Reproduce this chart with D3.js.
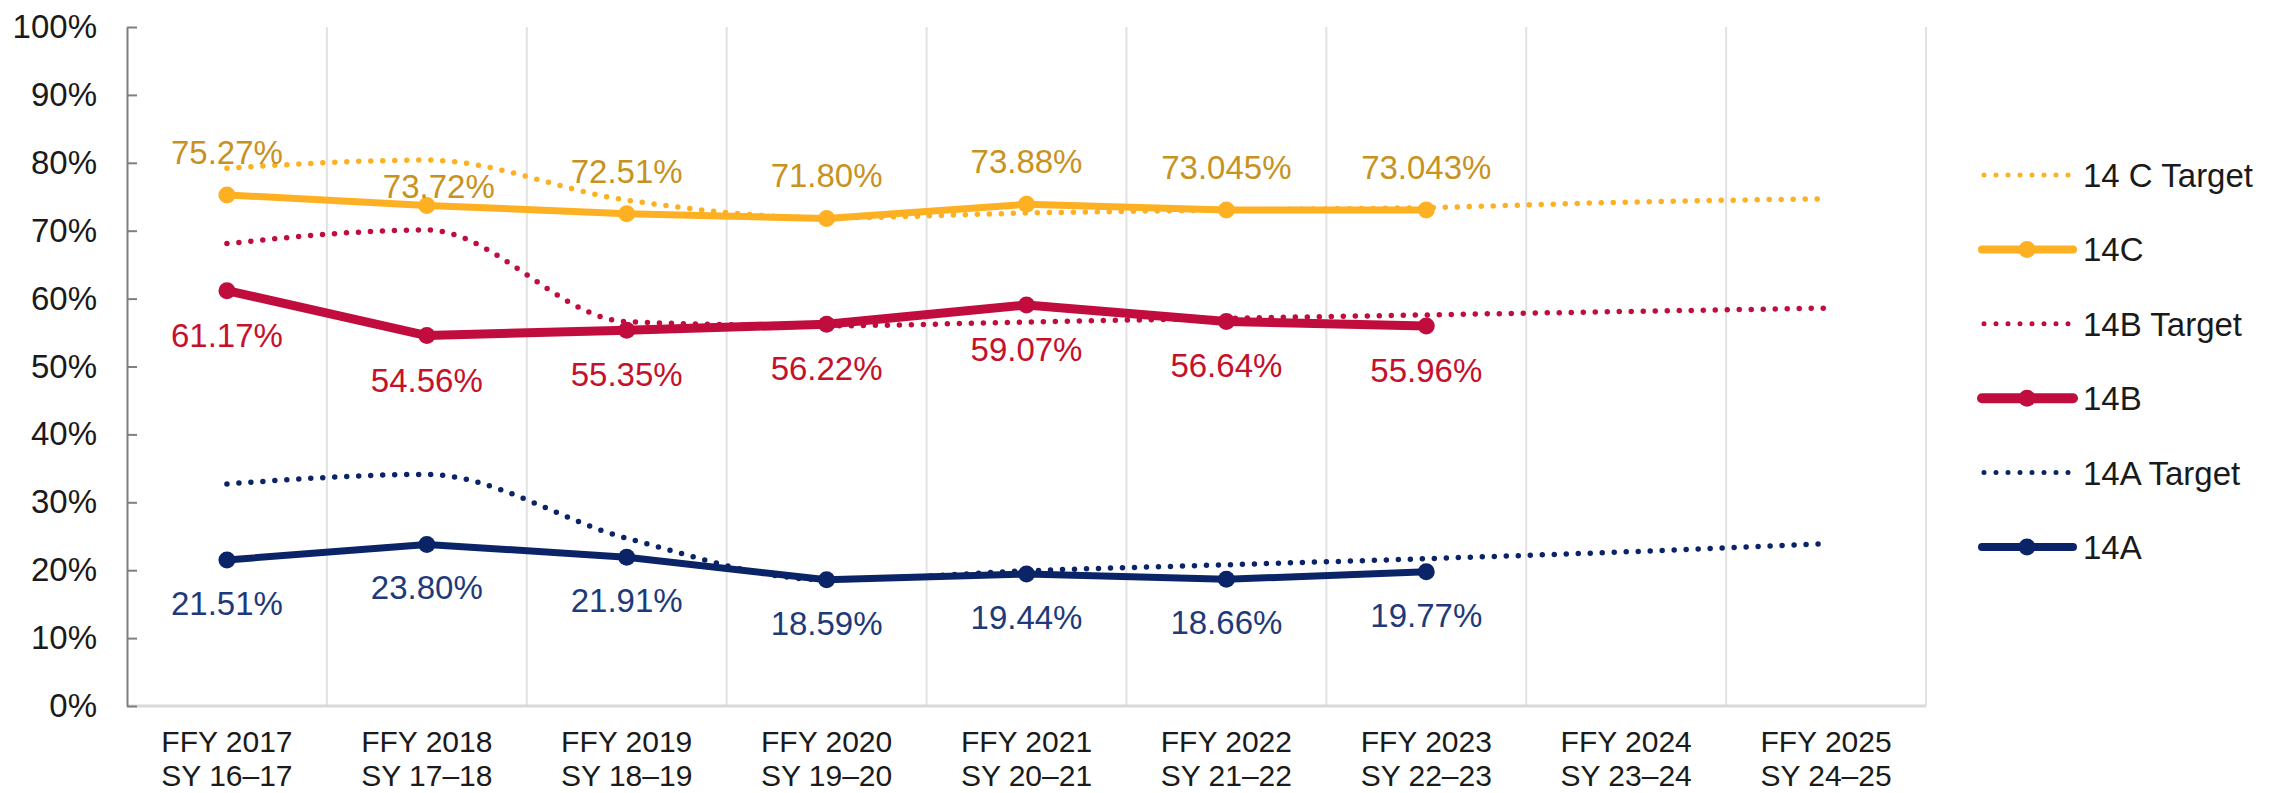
<!DOCTYPE html>
<html>
<head>
<meta charset="utf-8">
<script src="https://cdn.jsdelivr.net/npm/d3@7/dist/d3.min.js"></script>
<style>
  body { margin: 0; background: #fff; }
  text { font-family: "Liberation Sans", Arial, sans-serif; }
</style>
</head>
<body>
<script>
// categories (two line tick labels)
const years = ["FFY 2017", "FFY 2018", "FFY 2019", "FFY 2020", "FFY 2021", "FFY 2022", "FFY 2023", "FFY 2024", "FFY 2025"];
const schoolYears = ["SY 16–17", "SY 17–18", "SY 18–19", "SY 19–20", "SY 20–21", "SY 21–22", "SY 22–23", "SY 23–24", "SY 24–25"];
const yTicks = [0, 10, 20, 30, 40, 50, 60, 70, 80, 90, 100];

// actual values (FFY 2017 - 2023)
const v14C = [75.27, 73.72, 72.51, 71.80, 73.88, 73.045, 73.043];
const v14B = [61.17, 54.56, 55.35, 56.22, 59.07, 56.64, 55.96];
const v14A = [21.51, 23.80, 21.91, 18.59, 19.44, 18.66, 19.77];

// targets (FFY 2017 - 2025)
const t14C = [79.2, 80.4, 74.5, 71.9, 72.6, 73.05, 73.4, 74.2, 74.7];
const t14B = [68.1, 70.1, 56.6, 56.0, 56.55, 57.1, 57.6, 58.1, 58.6];
const t14A = [32.7, 34.1, 24.7, 18.6, 19.9, 20.8, 21.7, 22.7, 23.9];

// size of the picture and the plot area
const W = 2289, H = 793;
const plot = {left: 127, right: 1926, top: 27, bottom: 706};

const svg = d3.select("body").append("svg")
  .attr("width", W).attr("height", H);

const x = d3.scalePoint().domain(years).range([plot.left, plot.right]).padding(0.5);
const y = d3.scaleLinear().domain([0, 100]).range([plot.bottom, plot.top]);
const step = x.step();

// vertical gridlines between categories + right border
svg.append("g").selectAll("line")
  .data(years.slice(1).concat(["end"]))
  .join("line")
  .attr("x1", (d, i) => plot.left + (i + 1) * step)
  .attr("x2", (d, i) => plot.left + (i + 1) * step)
  .attr("y1", y(100)).attr("y2", y(0))
  .attr("stroke", "#e2e2e2").attr("stroke-width", 2);

// bottom line
svg.append("line")
  .attr("x1", plot.left).attr("x2", plot.right)
  .attr("y1", y(0)).attr("y2", y(0))
  .attr("stroke", "#d9d9d9").attr("stroke-width", 3);

// y axis
const yAxis = svg.append("g")
  .attr("transform", `translate(${plot.left},0)`)
  .call(d3.axisLeft(y).tickValues(yTicks).tickFormat(d => d + "%")
    .tickSize(-10).tickSizeOuter(0).tickPadding(30));
yAxis.select(".domain").attr("stroke", "#7f7f7f").attr("stroke-width", 2);
yAxis.selectAll(".tick line").attr("stroke", "#7f7f7f").attr("stroke-width", 2);
yAxis.selectAll(".tick text").attr("font-size", 33).attr("fill", "#1a1a1a")
  .attr("font-family", "'Liberation Sans', Arial, sans-serif");

// x labels
const xl = svg.append("g").selectAll("text")
  .data(years)
  .join("text")
  .attr("x", d => x(d))
  .attr("y", 752)
  .attr("text-anchor", "middle")
  .attr("font-size", 30)
  .attr("fill", "#1a1a1a");
xl.append("tspan").attr("x", d => x(d)).text(d => d);
xl.append("tspan").attr("x", d => x(d)).attr("dy", 34).text((d, i) => schoolYears[i]);

const fmt = v => { let s = v.toFixed(3); if (s.endsWith("0")) s = v.toFixed(2); return s + "%"; };

const series = [
  {name: "14 C Target", vals: t14C, color: "#FDB022", dotted: true},
  {name: "14C", vals: v14C, color: "#FDB022", width: 7, label: "#C8921E", dy: -31},
  {name: "14B Target", vals: t14B, color: "#C00D3E", dotted: true},
  {name: "14B", vals: v14B, color: "#C00D3E", width: 9, label: "#C5112B", dy: 56},
  {name: "14A Target", vals: t14A, color: "#0B2467", dotted: true},
  {name: "14A", vals: v14A, color: "#0B2467", width: 7, label: "#1E3A7A", dy: 55}
];

// label exceptions  (series, index) -> shift
const labelNudge = {"14C-1": {dx: 12, dy: -7}};

const solidLine = d3.line().x((d, i) => x(years[i])).y(d => y(d));
const smoothLine = d3.line().x((d, i) => x(years[i])).y(d => y(d)).curve(d3.curveMonotoneX);

// dotted target lines first
series.filter(s => s.dotted).forEach(s => {
  svg.append("path")
    .attr("d", smoothLine(s.vals))
    .attr("fill", "none")
    .attr("stroke", s.color)
    .attr("stroke-width", 5.5)
    .attr("stroke-linecap", "round")
    .attr("stroke-dasharray", "0 12");
});

// solid lines with markers
series.filter(s => !s.dotted).forEach(s => {
  svg.append("path")
    .attr("d", solidLine(s.vals))
    .attr("fill", "none")
    .attr("stroke", s.color)
    .attr("stroke-width", s.width)
    .attr("stroke-linejoin", "round");
  svg.append("g").selectAll("circle")
    .data(s.vals)
    .join("circle")
    .attr("cx", (d, i) => x(years[i]))
    .attr("cy", d => y(d))
    .attr("r", 8.5)
    .attr("fill", s.color);
});

// data labels
series.filter(s => !s.dotted).forEach(s => {
  svg.append("g").selectAll("text")
    .data(s.vals)
    .join("text")
    .attr("x", (d, i) => x(years[i]) + ((labelNudge[s.name + "-" + i] || {}).dx || 0))
    .attr("y", (d, i) => y(d) + ((labelNudge[s.name + "-" + i] || {}).dy ?? s.dy))
    .attr("text-anchor", "middle")
    .attr("font-size", 33)
    .attr("fill", s.label)
    .text(d => fmt(d));
});

// legend
const legend = svg.append("g").selectAll("g")
  .data(series)
  .join("g")
  .attr("transform", (d, i) => `translate(1982, ${175 + i * 74.4})`);

legend.append("line")
  .attr("x1", d => d.dotted ? 2 : 0).attr("x2", d => d.dotted ? 90 : 91)
  .attr("stroke", d => d.color)
  .attr("stroke-width", d => d.dotted ? 5 : d.width + 1)
  .attr("stroke-linecap", "round")
  .attr("stroke-dasharray", d => d.dotted ? "0 12" : null);

legend.filter(d => !d.dotted).append("circle")
  .attr("cx", 45).attr("r", 8.5)
  .attr("fill", d => d.color);

legend.append("text")
  .attr("x", 101)
  .attr("y", 12)
  .attr("font-size", 33)
  .attr("fill", "#1a1a1a")
  .text(d => d.name);
</script>
</body>
</html>
